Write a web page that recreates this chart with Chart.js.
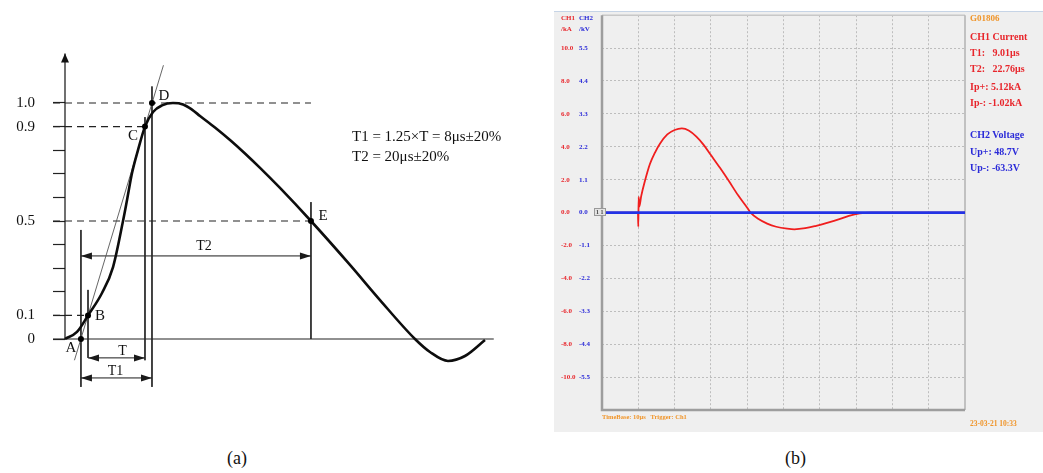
<!DOCTYPE html>
<html>
<head>
<meta charset="utf-8">
<script src="https://cdn.jsdelivr.net/npm/chart.js@4.4.0/dist/chart.umd.min.js"></script>
<style>
  html, body { margin: 0; padding: 0; background: #fff; }
  #page { position: relative; width: 1043px; height: 473px; overflow: hidden; font-family: "Liberation Serif", serif; }
  #waveA { position: absolute; left: 0; top: 0; }
  #scope { position: absolute; left: 554px; top: 11px; width: 489px; height: 421px; background: #efefef; border-top: 1px solid #c6d4e6; box-sizing: border-box; }
  #waveB { position: absolute; left: 554px; top: 11px; }
  .note { position: absolute; left: 352px; font-size: 15px; color: #111; white-space: nowrap; line-height: 1; }
  .cap { position: absolute; top: 449px; font-size: 18px; color: #111; line-height: 1; }
  .osd { position: absolute; font-weight: bold; white-space: pre; line-height: 1; }
  .red { color: #e8262c; }
  .blue { color: #2a2ad8; }
  .orange { color: #f0952a; }
</style>
</head>
<body>
<div id="page">
  <canvas id="waveA" width="545" height="440"></canvas>
  <div class="note" style="top:129px">T1 = 1.25×T = 8μs±20%</div>
  <div class="note" style="top:149px">T2 = 20μs±20%</div>
  <div class="cap" style="left:227px">(a)</div>

  <div id="scope"></div>
  <canvas id="waveB" width="489" height="421"></canvas>
  <div class="osd red" style="left:561px;top:15px;font-size:7px">CH1</div>
  <div class="osd blue" style="left:579px;top:15px;font-size:7px">CH2</div>
  <div class="osd red" style="left:561px;top:26px;font-size:7px">/kA</div>
  <div class="osd blue" style="left:579px;top:26px;font-size:7px">/kV</div>
  <div class="osd" style="left:594px;top:208px;font-size:6px;color:#444;border:1px solid #999;background:#e4e4e4;padding:0 1px">1 1</div>

  <div class="osd orange" style="left:970px;top:14px;font-size:9px">G01806</div>
  <div class="osd red" style="left:970px;top:32px;font-size:10px">CH1 Current</div>
  <div class="osd red" style="left:970px;top:48px;font-size:10px">T1:   9.01μs</div>
  <div class="osd red" style="left:970px;top:64px;font-size:10px">T2:   22.76μs</div>
  <div class="osd red" style="left:970px;top:82px;font-size:10px">Ip+: 5.12kA</div>
  <div class="osd red" style="left:970px;top:98px;font-size:10px">Ip-: -1.02kA</div>
  <div class="osd blue" style="left:970px;top:130px;font-size:10px">CH2 Voltage</div>
  <div class="osd blue" style="left:970px;top:147px;font-size:10px">Up+: 48.7V</div>
  <div class="osd blue" style="left:970px;top:163px;font-size:10px">Up-: -63.3V</div>
  <div class="osd orange" style="left:602px;top:414px;font-size:6.5px">TimeBase: 10μs   Trigger: Ch1</div>
  <div class="osd orange" style="left:970px;top:420px;font-size:7.5px">23-03-21 10:33</div>
  <div class="cap" style="left:785px">(b)</div>
</div>
<script>
// ---- (a) standard impulse: time in µs, amplitude normalised to the peak ----
const waveT = [0, 1.37, 2.63, 4.23, 5.49, 6.63, 7.09, 7.66, 8.34, 9.14, 10.06, 11.09, 12.34,
               13.49, 14.51, 15.43, 17.14, 18.86, 20.57, 22.29, 24.57, 28.11, 32.57, 36.0, 40.0,
               41.71, 43.77, 45.71, 48.0];
const waveV = [0, 0.03, 0.1, 0.195, 0.305, 0.5, 0.589, 0.703, 0.8, 0.9, 0.962, 0.99, 1.0,
               0.994, 0.972, 0.945, 0.896, 0.843, 0.786, 0.725, 0.64, 0.5, 0.314, 0.165, 0,
               -0.055, -0.093, -0.072, -0.004];

// characteristic points
const markNames = ['A', 'B', 'C', 'D', 'E'];
const markT = [1.82, 2.63, 9.14, 9.94, 28.11];
const markV = [0, 0.1, 0.9, 1.0, 0.5];

// front tangent through B and C
const tangentT = [1.08, 11.25];
const tangentV = [-0.09, 1.16];

// amplitude axis
const levelTicks = [0, 0.1, 0.2, 0.3, 0.4, 0.5, 0.6, 0.7, 0.8, 0.9, 1.0];
const levelLabels = ['0', '0.1', '', '', '', '0.5', '', '', '', '0.9', '1.0'];
const axisTop = 1.21;
const axisEndT = 49;
const guideStartT = -1.37;
const guideLevels = [1.0, 0.9, 0.5, 0.1];
const guideEndT = [28.11, 9.14, 28.11, 2.63];

// vertical drop lines at A, B, C, D, E
const dropT = [1.82, 2.63, 9.14, 9.94, 28.11];
const dropTop = [0.462, 0.208, 0.94, 1.07, 0.58];
const dropBottom = [-0.203, -0.08, -0.09, -0.203, 0];

// interval arrows
const spanNames = ['T', 'T1', 'T2'];
const spanFrom = [2.63, 1.82, 1.82];
const spanTo = [9.14, 9.94, 28.11];
const spanLevel = [-0.08, -0.165, 0.352];

// ---- (b) recorded waveform: time in µs ----
const scopeT = [0, 9.9, 10.0, 10.1, 10.25, 10.8, 11.8, 13.2, 14.6, 16.0, 18.0, 20.0, 22.0, 24.0, 26.0,
                28.0, 30.0, 32.5, 35.0, 37.5, 40.0, 41.0, 43.0, 45.5, 48.0, 51.0, 53.0, 56.0, 59.0,
                62.0, 65.6, 68.0, 71.0, 74.0, 100];
const ch1KA = [0, 0, -0.85, 0.95, 0.35, 1.0, 1.9, 2.95, 3.65, 4.2, 4.75, 5.02, 5.12, 4.98, 4.62,
               4.12, 3.5, 2.72, 1.9, 1.05, 0.3, -0.02, -0.38, -0.67, -0.86, -0.98, -1.02, -0.95, -0.8,
               -0.62, -0.38, -0.2, -0.05, 0, 0];
const ch2T = [0, 100];
const ch2V = [0, 0];
const ch1Ticks = [-10, -8, -6, -4, -2, 0, 2, 4, 6, 8, 10];
const ch2Ticks = [-5.5, -4.4, -3.3, -2.2, -1.1, 0, 1.1, 2.2, 3.3, 4.4, 5.5];
const timeGrid = [10, 20, 30, 40, 50, 60, 70, 80, 90];

const serif = '"Liberation Serif", "Times New Roman", serif';
const pts = (xs, ys) => xs.map((x, i) => ({x, y: ys[i]}));

// filled arrowheads at the ends of datasets flagged with arrowEnds
const arrowHeads = {
  id: 'arrowHeads',
  afterDatasetsDraw(chart) {
    const ctx = chart.ctx;
    chart.data.datasets.forEach((ds, i) => {
      if (!ds.arrowEnds) return;
      const p = chart.getDatasetMeta(i).data;
      const head = (tip, from) => {
        const ang = Math.atan2(tip.y - from.y, tip.x - from.x);
        ctx.save();
        ctx.translate(tip.x, tip.y);
        ctx.rotate(ang);
        ctx.beginPath();
        ctx.moveTo(0, 0);
        ctx.lineTo(-ds.headLength, -ds.headWidth / 2);
        ctx.lineTo(-ds.headLength, ds.headWidth / 2);
        ctx.closePath();
        ctx.fillStyle = ds.borderColor;
        ctx.fill();
        ctx.restore();
      };
      const n = p.length;
      head(p[n - 1], p[n - 2]);
      if (ds.arrowEnds === 'both') head(p[0], p[1]);
    });
  }
};

// letter labels placed next to points, offsets in pixels
const callouts = [
  {text: 'A', t: markT[0], v: markV[0], dx: -10, dy: 9},
  {text: 'B', t: markT[1], v: markV[1], dx: 12, dy: 1},
  {text: 'C', t: markT[2], v: markV[2], dx: -12, dy: 9},
  {text: 'D', t: markT[3], v: markV[3], dx: 12, dy: -7},
  {text: 'E', t: markT[4], v: markV[4], dx: 12, dy: -5},
  {text: spanNames[0], t: (spanFrom[0] + spanTo[0]) / 2, v: spanLevel[0], dx: 6, dy: -7, size: 14},
  {text: spanNames[1], t: (spanFrom[1] + spanTo[1]) / 2, v: spanLevel[1], dx: -1, dy: -7, size: 14},
  {text: spanNames[2], t: (spanFrom[2] + spanTo[2]) / 2, v: spanLevel[2], dx: 8, dy: -10, size: 14}
];
const calloutText = {
  id: 'calloutText',
  afterDatasetsDraw(chart) {
    const {ctx, scales: {x, y}} = chart;
    ctx.save();
    ctx.fillStyle = '#111';
    ctx.textAlign = 'center';
    ctx.textBaseline = 'middle';
    callouts.forEach(c => {
      ctx.font = (c.size || 15) + 'px ' + serif;
      ctx.fillText(c.text, x.getPixelForValue(c.t) + c.dx, y.getPixelForValue(c.v) + c.dy);
    });
    ctx.restore();
  }
};

const thin = {borderColor: '#2a2a2a', borderWidth: 1};
const guideData = [];
guideLevels.forEach((v, i) => {
  guideData.push({x: guideStartT, y: v}, {x: guideEndT[i], y: v}, {x: guideEndT[i], y: null});
});
const dropData = [];
dropT.forEach((t, i) => {
  dropData.push({x: t, y: dropTop[i]}, {x: t, y: dropBottom[i]}, {x: t, y: null});
});
const spanSets = spanNames.map((name, i) => ({
  label: name,
  data: [{x: spanFrom[i], y: spanLevel[i]}, {x: spanTo[i], y: spanLevel[i]}],
  borderColor: '#1a1a1a', borderWidth: 1,
  arrowEnds: 'both', headLength: 11, headWidth: 7
}));

new Chart(document.getElementById('waveA'), {
  type: 'line',
  data: {
    datasets: [
      {label: 'points', data: pts(markT, markV), showLine: false, pointRadius: 3,
       pointBackgroundColor: '#000', pointBorderWidth: 0},
      {label: 'impulse', data: pts(waveT, waveV), borderColor: '#0d0d0d', borderWidth: 2.6,
       cubicInterpolationMode: 'monotone'},
      {label: 'tangent', data: pts(tangentT, tangentV), borderColor: '#555', borderWidth: 0.9},
      {label: 'levels', data: guideData, borderColor: '#222', borderWidth: 1.2, borderDash: [7, 5], spanGaps: false},
      {label: 'drops', data: dropData, ...thin, spanGaps: false},
      ...spanSets,
      {label: 'time axis', data: [{x: guideStartT, y: 0}, {x: axisEndT, y: 0}], borderColor: '#222', borderWidth: 1.2},
      {label: 'amplitude axis', data: [{x: 0, y: 0}, {x: 0, y: axisTop}], borderColor: '#111', borderWidth: 1.2,
       arrowEnds: 'end', headLength: 9, headWidth: 8}
    ]
  },
  options: {
    responsive: false,
    animation: false,
    events: [],
    layout: {padding: {left: 0, right: 42.5, top: 44, bottom: 42}},
    datasets: {line: {clip: false, pointRadius: 0, fill: false, tension: 0}},
    plugins: {legend: {display: false}, tooltip: {enabled: false}},
    scales: {
      x: {type: 'linear', display: false, min: 0, max: 50},
      y: {
        type: 'linear', position: 'left', min: -0.25, max: 1.25,
        afterBuildTicks: s => { s.ticks = levelTicks.map(v => ({value: v})); },
        afterFit: s => { s.width = 65; },
        grid: {drawOnChartArea: false, drawTicks: true, tickLength: 12, color: '#222', tickColor: '#222', tickWidth: 1.2},
        border: {display: false},
        ticks: {
          padding: 18, color: '#111', font: {family: serif, size: 15},
          callback: v => {
            const i = levelTicks.findIndex(l => Math.abs(l - v) < 1e-6);
            return i < 0 ? '' : levelLabels[i];
          }
        }
      }
    }
  },
  plugins: [arrowHeads, calloutText]
});

// oscilloscope frame: light top/right edges, heavier left/bottom edges
const scopeFrame = {
  id: 'scopeFrame',
  beforeDatasetsDraw(chart) {
    const {ctx, chartArea: {left, top, right, bottom}} = chart;
    ctx.save();
    ctx.strokeStyle = '#c8c8c8';
    ctx.lineWidth = 1.5;
    ctx.beginPath(); ctx.moveTo(left, top); ctx.lineTo(right, top); ctx.stroke();
    ctx.strokeStyle = '#b2b2b2';
    ctx.beginPath(); ctx.moveTo(right, top); ctx.lineTo(right, bottom); ctx.stroke();
    ctx.strokeStyle = '#9d9d9d';
    ctx.lineWidth = 2.5;
    ctx.beginPath(); ctx.moveTo(left, top); ctx.lineTo(left, bottom); ctx.lineTo(right, bottom); ctx.stroke();
    ctx.restore();
  }
};

const osdFont = {family: serif, size: 7, weight: 'bold'};
const dotted = {color: '#bdbdbd', lineWidth: 1, drawTicks: false};

new Chart(document.getElementById('waveB'), {
  type: 'line',
  data: {
    datasets: [
      {label: 'CH2 Voltage', data: pts(ch2T, ch2V), yAxisID: 'y2', borderColor: '#2333e6', borderWidth: 2.6},
      {label: 'CH1 Current', data: pts(scopeT, ch1KA), yAxisID: 'y', borderColor: '#f01e1e', borderWidth: 1.8,
       cubicInterpolationMode: 'monotone'}
    ]
  },
  options: {
    responsive: false,
    animation: false,
    events: [],
    layout: {padding: {left: 7, right: 78, top: 3, bottom: 22}},
    datasets: {line: {pointRadius: 0, fill: false, tension: 0}},
    plugins: {legend: {display: false}, tooltip: {enabled: false}},
    scales: {
      x: {
        type: 'linear', min: 0, max: 100,
        afterBuildTicks: s => { s.ticks = timeGrid.map(v => ({value: v})); },
        afterFit: s => { s.height = 0; },
        grid: dotted, border: {display: false, dash: [2, 2]},
        ticks: {display: false}
      },
      y: {
        type: 'linear', position: 'left', weight: 1, min: -12, max: 12,
        afterBuildTicks: s => { s.ticks = ch1Ticks.map(v => ({value: v})); },
        afterFit: s => { s.width = 18; },
        grid: dotted, border: {display: false, dash: [2, 2]},
        ticks: {crossAlign: 'far', padding: 0, color: '#e8262c', font: osdFont, callback: v => v.toFixed(1)}
      },
      y2: {
        type: 'linear', position: 'left', weight: 0, min: -6.6, max: 6.6,
        afterBuildTicks: s => { s.ticks = ch2Ticks.map(v => ({value: v})); },
        afterFit: s => { s.width = 23; },
        grid: {display: false}, border: {display: false},
        ticks: {crossAlign: 'far', padding: 0, color: '#2a2ad8', font: osdFont, callback: v => v.toFixed(1)}
      }
    }
  },
  plugins: [scopeFrame]
});
</script>
</body>
</html>
